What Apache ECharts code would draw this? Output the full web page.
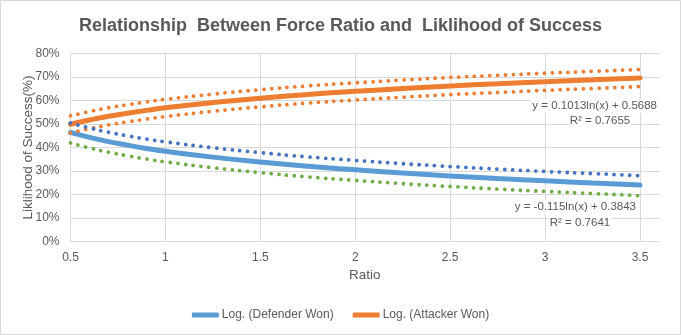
<!DOCTYPE html>
<html><head><meta charset="utf-8">
<script src="https://cdn.jsdelivr.net/npm/echarts@6/dist/echarts.min.js"></script>
<style>html,body{margin:0;padding:0;background:#fff}#c{width:681px;height:335px}</style>
</head><body><div id="c"></div>
<script>
const ratios = [0.5, 0.6, 0.7, 0.8, 0.9, 1.0, 1.25, 1.5, 1.75, 2.0, 2.25, 2.5, 2.75, 3.0, 3.25, 3.5];
const defenderLog = [46.4, 44.3, 42.5, 41.0, 39.6, 38.4, 35.9, 33.8, 32.0, 30.5, 29.1, 27.9, 26.8, 25.8, 24.9, 24.0];
const attackerLog = [49.9, 51.7, 53.3, 54.6, 55.8, 56.9, 59.1, 61.0, 62.6, 63.9, 65.1, 66.2, 67.1, 68.0, 68.8, 69.6];
const attackerUpper = [53.5, 55.3, 56.9, 58.2, 59.4, 60.5, 62.7, 64.6, 66.2, 67.5, 68.7, 69.8, 70.7, 71.6, 72.4, 73.2];
const attackerLower = [46.2, 48.0, 49.6, 50.9, 52.1, 53.2, 55.4, 57.3, 58.9, 60.2, 61.4, 62.5, 63.4, 64.3, 65.1, 65.9];
const defenderUpper = [50.4, 48.3, 46.5, 45.0, 43.6, 42.4, 39.9, 37.8, 36.0, 34.5, 33.1, 31.9, 30.8, 29.8, 28.9, 28.0];
const defenderLower = [41.9, 39.8, 38.0, 36.5, 35.1, 33.9, 31.4, 29.3, 27.5, 26.0, 24.6, 23.4, 22.3, 21.3, 20.4, 19.5];
const xTicks = [0.5, 1, 1.5, 2, 2.5, 3, 3.5];
const yTicks = [0, 10, 20, 30, 40, 50, 60, 70, 80];
const attackerEq = ['y = 0.1013ln(x) + 0.5688', 'R² = 0.7655'];
const defenderEq = ['y = -0.115ln(x) + 0.3843', 'R² = 0.7641'];

const pair = arr => ratios.map((x, i) => [x, arr[i]]);
const FONT = '"Liberation Sans", Arial, sans-serif';
const TXT = '#595959';
const dotted = (name, data, color) => ({
  name, type: 'line', data: pair(data), smooth: true, symbol: 'none', z: 5,
  lineStyle: {color, width: 3.8, type: [0.01, 7.8], cap: 'round'}
});
const eqText = (x, y, text, align) => ({
  type: 'text', x, y, z: 10,
  style: {text, fill: TXT, font: '11.5px ' + FONT, align, verticalAlign: 'middle',
          backgroundColor: '#fff', padding: [1, 1, 1, 1]}
});

const chart = echarts.init(document.getElementById('c'), null, {renderer: 'canvas'});
chart.setOption({
  animation: false,
  textStyle: {fontFamily: FONT},
  title: {
    text: 'Relationship  Between Force Ratio and  Liklihood of Success',
    left: 'center', top: 12,
    textStyle: {fontFamily: FONT, fontSize: 18, fontWeight: 'bold', color: TXT}
  },
  grid: {left: 70.5, right: 22, top: 53.5, bottom: 93.5, containLabel: false},
  xAxis: {
    type: 'value', min: 0.5, max: 3.6, interval: 0.5,
    name: 'Ratio', nameLocation: 'middle', nameGap: 27,
    nameTextStyle: {fontFamily: FONT, fontSize: 13.5, color: TXT},
    axisLine: {show: true, lineStyle: {color: '#d9d9d9', width: 1}},
    axisTick: {show: false},
    axisLabel: {color: TXT, fontSize: 12, fontFamily: FONT, margin: 10, showMaxLabel: false,
      formatter: v => xTicks.includes(v) ? String(v) : ''},
    splitLine: {show: true, showMaxLine: false, lineStyle: {color: '#d9d9d9', width: 1}}
  },
  yAxis: {
    type: 'value', min: 0, max: 80, interval: 10,
    name: 'Liklihood of Success(%)', nameLocation: 'middle', nameGap: 35, nameMoveOverlap: false,
    nameTextStyle: {fontFamily: FONT, fontSize: 13.5, color: TXT},
    axisLine: {show: false}, axisTick: {show: false},
    axisLabel: {color: TXT, fontSize: 12, fontFamily: FONT, margin: 11,
      formatter: v => yTicks.includes(v) ? v + '%' : ''},
    splitLine: {show: true, lineStyle: {color: '#d9d9d9', width: 1}}
  },
  legend: {
    data: ['Log. (Defender Won)', 'Log. (Attacker Won)'],
    bottom: 9, left: 'center', itemWidth: 27, itemHeight: 5, itemGap: 19,
    icon: 'roundRect',
    textStyle: {color: TXT, fontSize: 12, fontFamily: FONT, padding: [0, 0, 0, -2]}
  },
  series: [
    {name: 'Log. (Defender Won)', type: 'line', data: pair(defenderLog), smooth: true, symbol: 'none', z: 3,
     itemStyle: {color: '#5B9BD5'}, lineStyle: {color: '#5B9BD5', width: 5, cap: 'round'}},
    {name: 'Log. (Attacker Won)', type: 'line', data: pair(attackerLog), smooth: true, symbol: 'none', z: 3,
     itemStyle: {color: '#ED7D31'}, lineStyle: {color: '#ED7D31', width: 5, cap: 'round'}},
    dotted('Attacker upper', attackerUpper, '#ED7D31'),
    dotted('Attacker lower', attackerLower, '#ED7D31'),
    dotted('Defender upper', defenderUpper, '#4472C4'),
    dotted('Defender lower', defenderLower, '#70AD47')
  ],
  graphic: [
    {type: 'rect', shape: {x: 0.5, y: 0.5, width: 680, height: 334}, style: {fill: null, stroke: '#d9d9d9', lineWidth: 1}, z: -1, silent: true},
    eqText(658, 106, attackerEq[0], 'right'),
    eqText(600, 121, attackerEq[1], 'center'),
    eqText(637, 207, defenderEq[0], 'right'),
    eqText(580, 223, defenderEq[1], 'center')
  ]
});
</script></body></html>
